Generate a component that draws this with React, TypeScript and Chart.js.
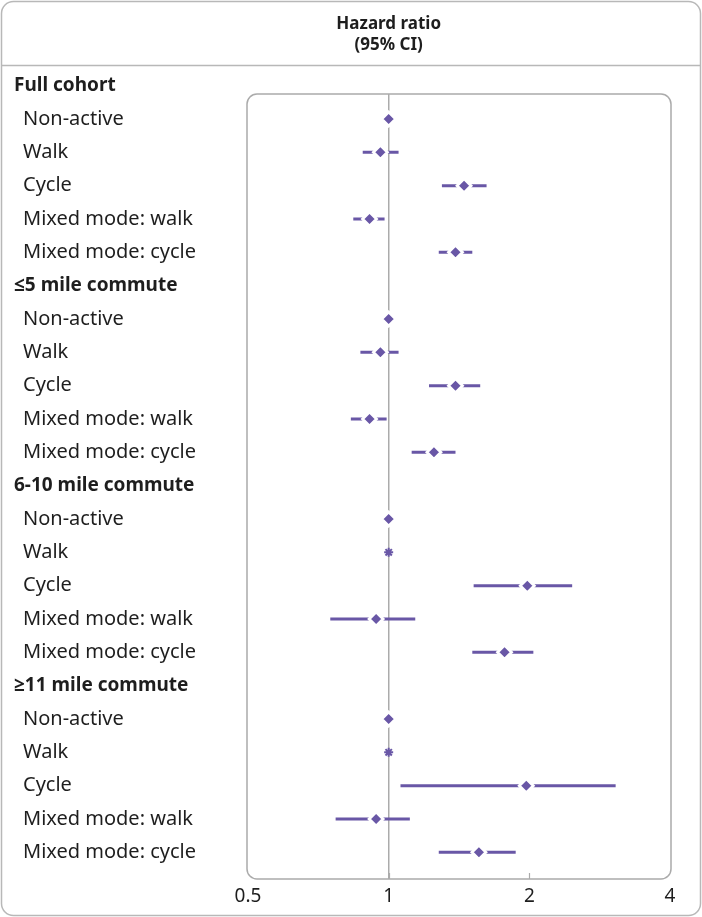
import React, { useEffect, useRef } from 'react';
import { Chart, registerables } from 'chart.js';

Chart.register(...registerables);

// ---------- data ----------
const groupNames = ['Full cohort', '≤5 mile commute', '6-10 mile commute', '≥11 mile commute'];
const modeNames = ['Non-active', 'Walk', 'Cycle', 'Mixed mode: walk', 'Mixed mode: cycle'];

const hazardRatio = [
  [1, 0.96, 1.45, 0.91, 1.39],
  [1, 0.96, 1.39, 0.91, 1.25],
  [1, 1, 1.98, 0.94, 1.77],
  [1, 1, 1.97, 0.94, 1.56],
];
const ciLower = [
  [null, 0.88, 1.3, 0.84, 1.28],
  [null, 0.87, 1.22, 0.83, 1.12],
  [null, null, 1.52, 0.75, 1.51],
  [null, null, 1.06, 0.77, 1.28],
];
const ciUpper = [
  [null, 1.05, 1.62, 0.98, 1.51],
  [null, 1.05, 1.57, 0.99, 1.39],
  [null, null, 2.47, 1.14, 2.04],
  [null, null, 3.06, 1.11, 1.87],
];
const notEstimable = [
  [false, false, false, false, false],
  [false, false, false, false, false],
  [false, true, false, false, false],
  [false, true, false, false, false],
];
const xTicks = [0.5, 1, 2, 4];
const headerLines = ['Hazard ratio', '(95% CI)'];

// ---------- styles ----------
const PURPLE = '#6957a6';
const GRAY = '#ababab';
const TEXT = '#1e1e1e';
const FONT = '"Noto Sans", "Open Sans", sans-serif';

type Row = { label: string; header: boolean };

const rows: Row[] = [];
groupNames.forEach((g) => {
  rows.push({ label: g, header: true });
  modeNames.forEach((m) => rows.push({ label: m, header: false }));
});
const rowIndex = (g: number, m: number) => g * (modeNames.length + 1) + 1 + m;

function roundRectPath(ctx: CanvasRenderingContext2D, x: number, y: number, w: number, h: number, r: number) {
  ctx.beginPath();
  ctx.moveTo(x + r, y);
  ctx.lineTo(x + w - r, y);
  ctx.arcTo(x + w, y, x + w, y + r, r);
  ctx.lineTo(x + w, y + h - r);
  ctx.arcTo(x + w, y + h, x + w - r, y + h, r);
  ctx.lineTo(x + r, y + h);
  ctx.arcTo(x, y + h, x, y + h - r, r);
  ctx.lineTo(x, y + r);
  ctx.arcTo(x, y, x + r, y, r);
  ctx.closePath();
}

const decorPlugin = {
  id: 'forestDecor',
  beforeDraw(chart: any) {
    const { ctx, chartArea: a, width, height } = chart;
    const xs = chart.scales.x;
    ctx.save();
    ctx.strokeStyle = '#b8b8b8';
    ctx.lineWidth = 1.5;
    roundRectPath(ctx, 1.5, 1.5, width - 3, height - 3, 12);
    ctx.stroke();
    ctx.beginPath();
    ctx.moveTo(1.5, 65.5);
    ctx.lineTo(width - 1.5, 65.5);
    ctx.stroke();
    ctx.strokeStyle = GRAY;
    roundRectPath(ctx, a.left - 1, a.top, a.right - a.left + 2, a.bottom - a.top, 10);
    ctx.stroke();
    ctx.lineWidth = 1.2;
    xTicks.slice(1, -1).forEach((v) => {
      const px = Math.round(xs.getPixelForValue(v)) + 0.5;
      ctx.beginPath();
      ctx.moveTo(px, a.bottom - 6);
      ctx.lineTo(px, a.bottom);
      ctx.stroke();
    });
    ctx.restore();
  },
  afterDraw(chart: any) {
    const { ctx } = chart;
    const ys = chart.scales.y;
    const xs = chart.scales.x;
    ctx.save();
    ctx.fillStyle = TEXT;
    ctx.textBaseline = 'middle';
    ctx.textAlign = 'left';
    rows.forEach((r, i) => {
      ctx.font = r.header ? 'bold 19px ' + FONT : '20px ' + FONT;
      ctx.fillText(r.label, r.header ? 14 : 23, ys.getPixelForValue(i));
    });
    ctx.textAlign = 'center';
    ctx.font = 'bold 17px ' + FONT;
    const cx = xs.getPixelForValue(1);
    headerLines.forEach((t, i) => ctx.fillText(t, cx, 24 + i * 21));
    ctx.restore();
  },
};

export default function App() {
  const ref = useRef<HTMLCanvasElement | null>(null);

  useEffect(() => {
    document.body.style.margin = '0';
    const canvas = ref.current;
    if (!canvas) return;

    const diamonds: { x: number; y: number }[] = [];
    const asterisks: { x: number; y: number }[] = [];
    const ciSets: any[] = [];
    hazardRatio.forEach((grp, g) => {
      grp.forEach((v, m) => {
        const y = rowIndex(g, m);
        if (notEstimable[g][m]) asterisks.push({ x: v, y });
        else diamonds.push({ x: v, y });
        const lo = ciLower[g][m];
        const hi = ciUpper[g][m];
        if (lo != null && hi != null) {
          ciSets.push({
            data: [
              { x: lo, y },
              { x: hi, y },
            ],
            showLine: true,
            borderColor: PURPLE,
            borderWidth: 3,
            pointRadius: 0,
            order: 2,
          });
        }
      });
    });

    const chart = new Chart(canvas, {
      type: 'scatter',
      data: {
        datasets: [
          {
            data: diamonds,
            pointStyle: 'rectRot',
            pointRadius: 7,
            pointBorderWidth: 2.8,
            pointBorderColor: '#ffffff',
            pointBackgroundColor: PURPLE,
            order: 0,
          },
          {
            data: asterisks,
            pointStyle: 'star',
            pointRadius: 4.5,
            pointBorderWidth: 2,
            pointBorderColor: PURPLE,
            pointBackgroundColor: PURPLE,
            order: 1,
          },
          ...ciSets,
        ],
      },
      options: {
        animation: false,
        responsive: false,
        maintainAspectRatio: false,
        events: [],
        layout: { padding: { left: 248, right: 32, top: 94, bottom: 0 } },
        plugins: { legend: { display: false }, tooltip: { enabled: false } },
        scales: {
          x: {
            type: 'logarithmic',
            min: 0.5,
            max: 4,
            afterBuildTicks: (s: any) => {
              s.ticks = xTicks.map((v) => ({ value: v }));
            },
            afterFit: (s: any) => {
              s.height = 38;
            },
            ticks: {
              callback: (v: any) => String(v),
              autoSkip: false,
              maxRotation: 0,
              padding: 6,
              color: TEXT,
              font: { family: FONT, size: 19 },
            },
            grid: {
              drawTicks: false,
              lineWidth: 1.5,
              color: (c: any) => (c.tick && c.tick.value === 1 ? GRAY : 'rgba(0,0,0,0)'),
            },
            border: { display: false },
          },
          y: {
            type: 'linear',
            reverse: true,
            min: 0.25,
            max: 23.8,
            display: false,
          },
        },
      },
      plugins: [decorPlugin],
    });
    return () => chart.destroy();
  }, []);

  return <canvas ref={ref} width={702} height={917} style={{ display: 'block' }} />;
}
